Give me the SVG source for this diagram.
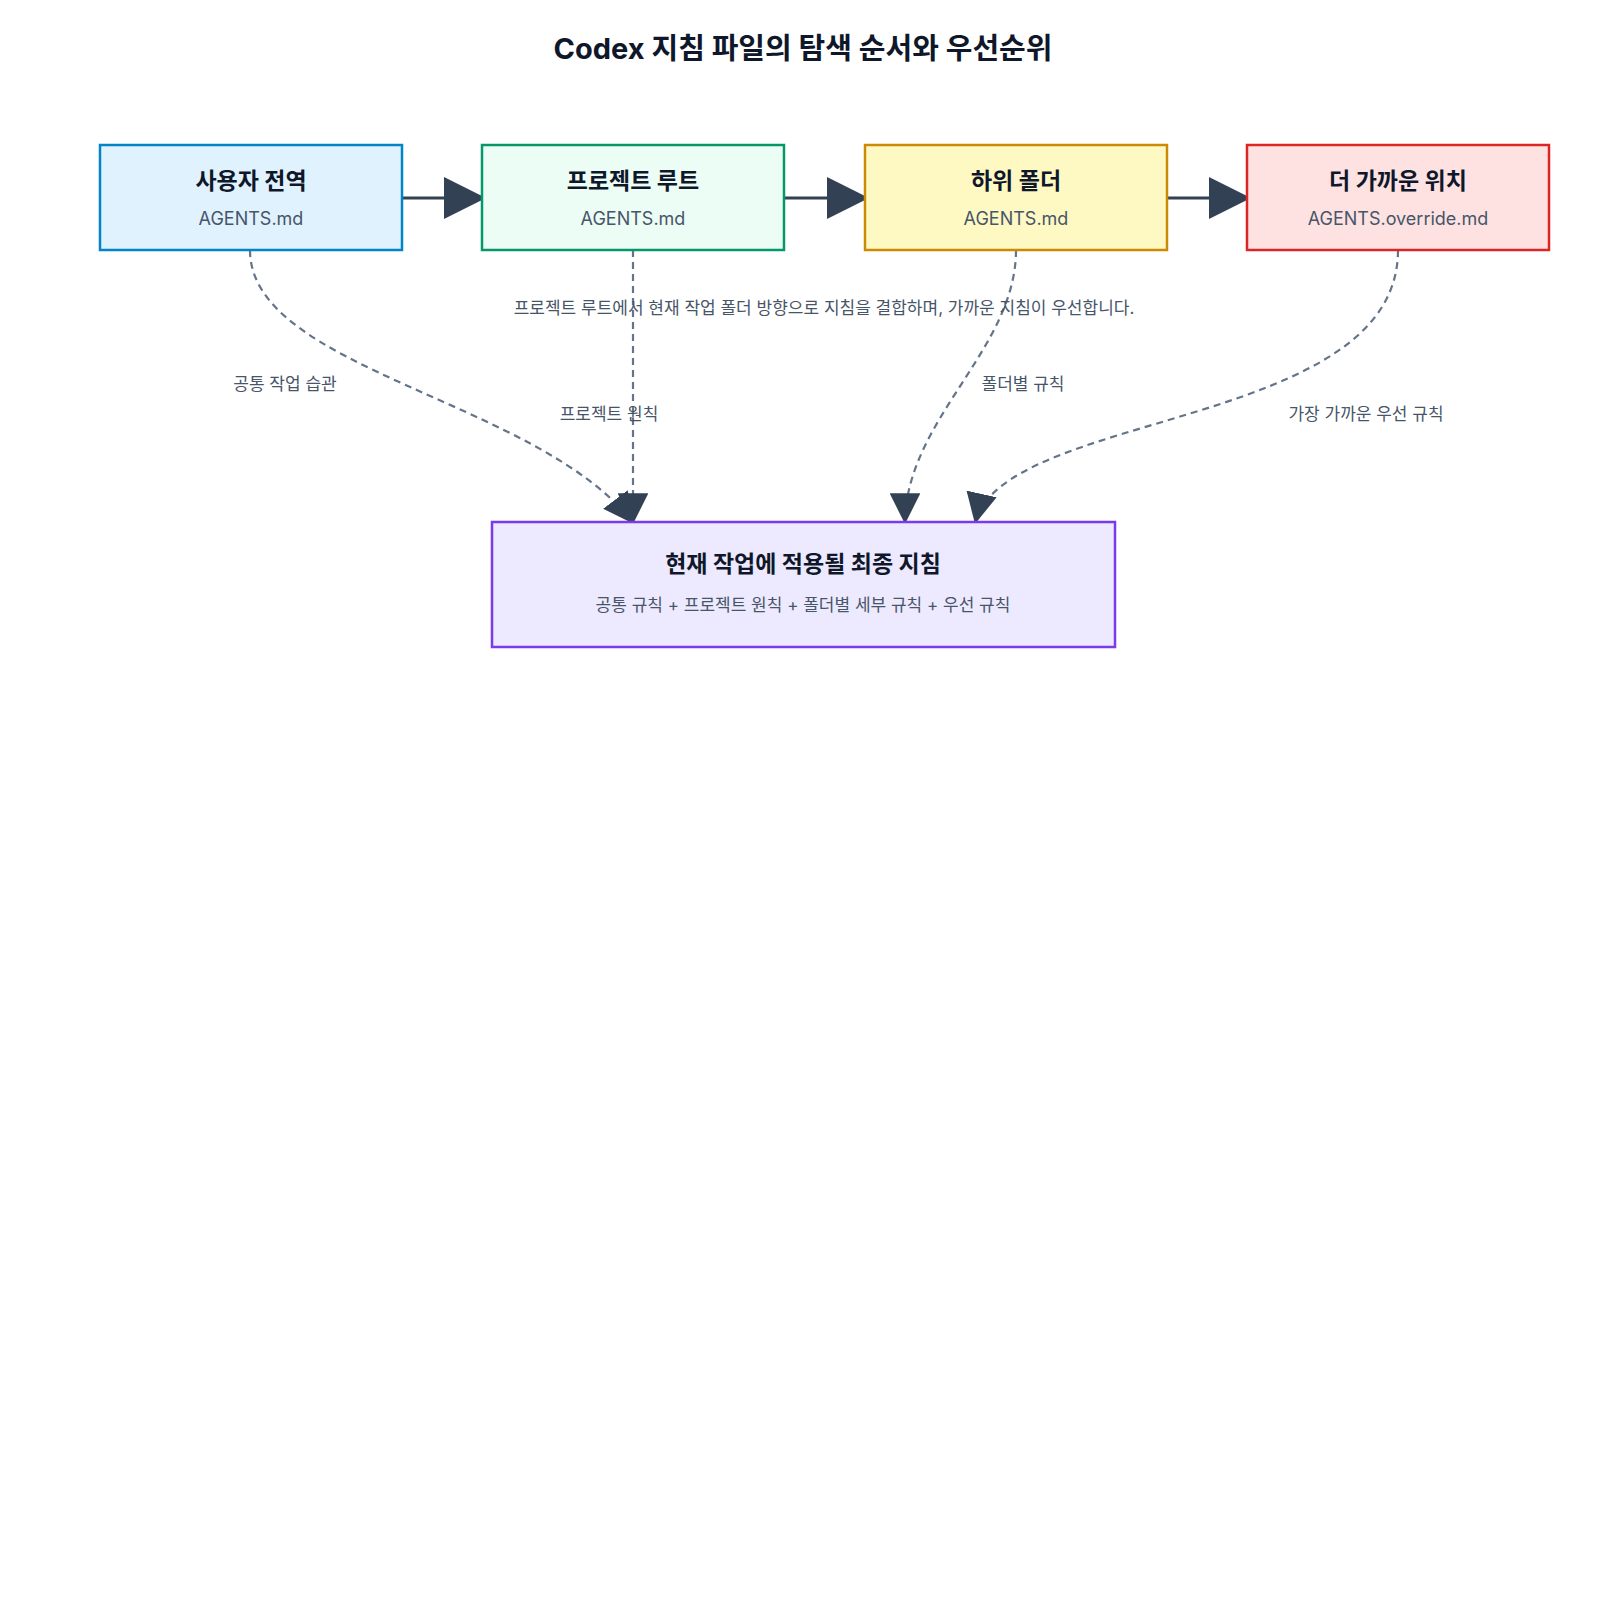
<svg xmlns="http://www.w3.org/2000/svg" width="1600" height="1600" viewBox="0 0 1600 1600">
<style>
text{font-family:"Inter","Noto Sans CJK KR",sans-serif;text-anchor:middle}
.t{font-size:23px;font-weight:700;fill:#0f172a}
.s{font-size:18px;fill:#475569}
.l{font-size:17px;fill:#475569}
.solid{stroke:#334155;stroke-width:3;fill:none}
.dash{stroke:#64748b;stroke-width:2.2;fill:none;stroke-dasharray:7 5}
rect{stroke-width:2.5}
</style>
<defs>
<marker id="a" viewBox="0 0 10 10" refX="10" refY="5" markerWidth="11" markerHeight="11" markerUnits="userSpaceOnUse" orient="auto">
<path d="M0,0L10,5L0,10z" fill="#334155"/></marker>
<marker id="b" viewBox="0 0 10 10" refX="10" refY="5" markerWidth="14" markerHeight="14" orient="auto">
<path d="M0,0L10,5L0,10z" fill="#334155"/></marker>
</defs>
<rect width="1600" height="1600" fill="#fff"/>
<text x="803" y="59" style="font-size:29px;font-weight:700;fill:#0f172a">Codex 지침 파일의 탐색 순서와 우선순위</text>
<g id="connectors">
<path class="solid" d="M401,198H486" marker-end="url(#b)"/>
<path class="solid" d="M784,198H869" marker-end="url(#b)"/>
<path class="solid" d="M1167,198H1251" marker-end="url(#b)"/>
<path class="dash" d="M250,250C250,370 540,400 634,524" marker-end="url(#b)"/>
<path class="dash" d="M633,250V524" marker-end="url(#b)"/>
<path class="dash" d="M1016,250C1016,350 905,420 905,524" marker-end="url(#b)"/>
<path class="dash" d="M1398,250C1398,430 1000,410 975,524" marker-end="url(#b)"/>
<text class="l" x="285" y="390">공통 작업 습관</text>
<text class="l" x="609" y="420">프로젝트 원칙</text>
<text class="l" x="1023" y="390">폴더별 규칙</text>
<text class="l" x="1366" y="420">가장 가까운 우선 규칙</text>
<text class="l" x="824" y="314">프로젝트 루트에서 현재 작업 폴더 방향으로 지침을 결합하며, 가까운 지침이 우선합니다.</text>
</g>
<g id="n1"><rect x="100" y="145" width="302" height="105" fill="#e0f2fe" stroke="#0284c7"/><text class="t" x="251" y="189">사용자 전역</text><text class="s" x="251" y="225">AGENTS.md</text></g>
<g id="n2"><rect x="482" y="145" width="302" height="105" fill="#ecfdf5" stroke="#059669"/><text class="t" x="633" y="189">프로젝트 루트</text><text class="s" x="633" y="225">AGENTS.md</text></g>
<g id="n3"><rect x="865" y="145" width="302" height="105" fill="#fef9c3" stroke="#ca8a04"/><text class="t" x="1016" y="189">하위 폴더</text><text class="s" x="1016" y="225">AGENTS.md</text></g>
<g id="n4"><rect x="1247" y="145" width="302" height="105" fill="#fee2e2" stroke="#dc2626"/><text class="t" x="1398" y="189">더 가까운 위치</text><text class="s" x="1398" y="225">AGENTS.override.md</text></g>
<g id="n5"><rect x="492" y="522" width="623" height="125" fill="#ede9fe" stroke="#7c3aed"/><text class="t" x="803" y="572">현재 작업에 적용될 최종 지침</text><text class="l" x="803" y="611">공통 규칙 + 프로젝트 원칙 + 폴더별 세부 규칙 + 우선 규칙</text></g>
</svg>
